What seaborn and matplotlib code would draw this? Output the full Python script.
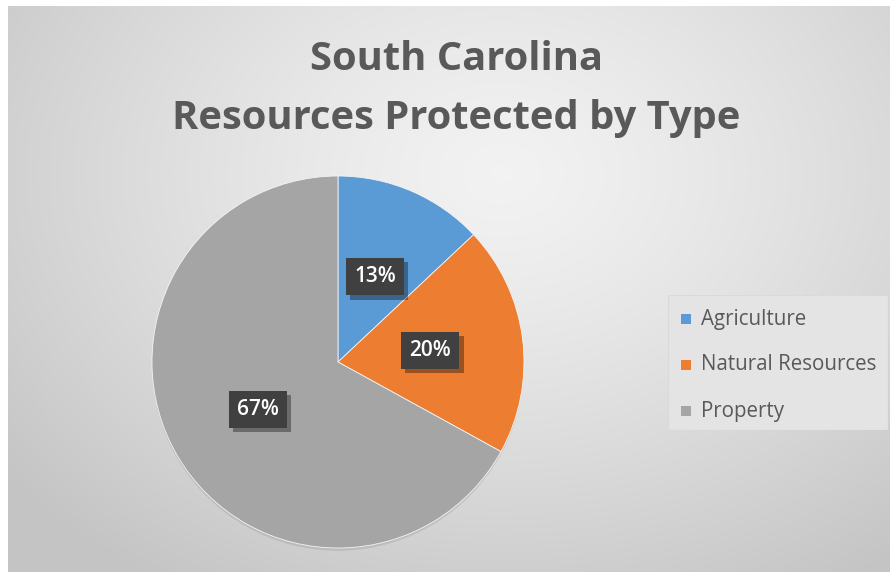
# South Carolina - Resources Protected by Type (pie chart, Excel style)

import numpy as np
import matplotlib.pyplot as plt
import matplotlib.patheffects as pe
from matplotlib.patches import Rectangle
import seaborn as sns

# data
categories = ["Agriculture", "Natural Resources", "Property"]
shares = [13, 20, 67]
colors = ["#5B9BD5", "#ED7D31", "#A5A5A5"]
title_lines = ["South Carolina", "Resources Protected by Type"]

sns.set_theme(style="white")
plt.rcParams["font.family"] = ["Open Sans", "DejaVu Sans"]

W, H = 894, 575
fig = plt.figure(figsize=(W / 100, H / 100), dpi=100)
fig.patch.set_facecolor("white")

# radial gradient background (chart area inside a thin white border)
bg = fig.add_axes([8 / W, 3 / H, (W - 12) / W, (H - 9) / H])
yy, xx = np.mgrid[0:H, 0:W]
d = np.sqrt(((xx - 500) / 620) ** 2 + ((yy - 170) / 470) ** 2)
shade = np.clip(0.95 - 0.17 * d ** 1.3, 0.77, 0.95)
bg.imshow(np.dstack([shade] * 3), aspect="auto", extent=[0, 1, 0, 1])
bg.set_axis_off()

# title
fig.text(456 / W, 1 - 59 / H, title_lines[0], ha="center", va="center",
         fontsize=28.7, fontweight="bold", color="#595959")
fig.text(456 / W, 1 - 118 / H, title_lines[1], ha="center", va="center",
         fontsize=28.7, fontweight="bold", color="#595959")

# pie
cx, cy, R = 338, 362, 186
ax = fig.add_axes([(cx - R) / W, (H - cy - R) / H, 2 * R / W, 2 * R / H])
ax.set_facecolor("none")
wedges, texts, autotexts = ax.pie(
    shares, colors=colors, startangle=90, counterclock=False,
    autopct="%d%%", pctdistance=0.5, radius=1,
    wedgeprops=dict(edgecolor="#f4f4f4", linewidth=0.6),
    textprops=dict(color="white", fontsize=15, fontweight="semibold"))
for w in wedges:
    w.set_path_effects([pe.SimplePatchShadow(offset=(0, -2), shadow_rgbFace="#888888", alpha=0.25),
                        pe.Normal()])
for t in autotexts:
    t.set_bbox(dict(boxstyle="square,pad=0.4", facecolor="#404040", edgecolor="none"))
    t.get_bbox_patch().set_path_effects(
        [pe.SimplePatchShadow(offset=(3, -3), shadow_rgbFace="black", alpha=0.35), pe.Normal()])
ax.set_xlim(-1, 1)
ax.set_ylim(-1, 1)
ax.set_axis_off()

# legend box
lg = fig.add_axes([668 / W, 1 - 430 / H, 220 / W, 135 / H])
lg.set_xlim(0, 220)
lg.set_ylim(135, 0)
lg.set_axis_off()
lg.add_patch(Rectangle((0, 0), 220, 135, facecolor="#e4e4e4", edgecolor="#dadada", lw=1))
for i, (name, col) in enumerate(zip(categories, colors)):
    y = 24 + i * 46
    lg.add_patch(Rectangle((13, y - 5), 10, 10, facecolor=col, edgecolor="none"))
    lg.text(33, y, name, ha="left", va="center", fontsize=14.8, color="#595959")

fig.savefig("out.png", dpi=100)
